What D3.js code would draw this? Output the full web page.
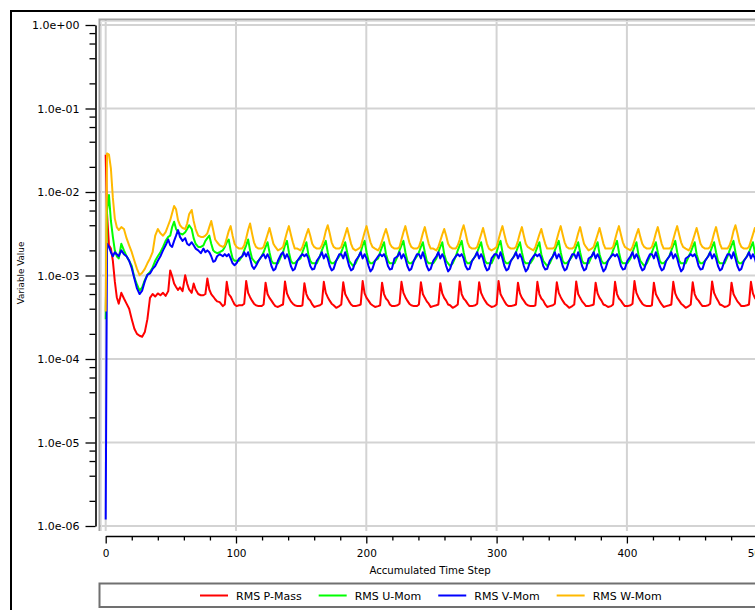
<!DOCTYPE html>
<html><head><meta charset="utf-8">
<script src="https://cdn.jsdelivr.net/npm/d3@7"></script>
<style>html,body{margin:0;padding:0;background:#fff;} svg{display:block;}</style>
</head><body>
<svg id="chart" width="755" height="610"></svg>
<script>
// ---- data ----
const steps = [
  0, 1, 2.5, 4, 5.5, 7, 8.5, 10, 12, 14,
  16, 18, 20, 22, 24, 26, 28, 30, 32, 34,
  36, 38, 40, 42, 44, 46, 48, 49.5, 51, 52.5,
  54, 55.5, 57, 59, 61, 62.5, 64, 66, 67.5, 69,
  71, 73,
  75, 76.5, 78, 79.5, 81, 82.5, 84, 85.5, 87.5,
  89.9, 91.4, 92.9, 94.4, 95.9, 97.4, 98.9, 100.4, 102.4,
  104.8, 106.3, 107.8, 109.3, 110.8, 112.3, 113.8, 115.3, 117.3,
  119.7, 121.2, 122.7, 124.2, 125.7, 127.2, 128.7, 130.2, 132.2,
  134.6, 136.1, 137.6, 139.1, 140.6, 142.1, 143.6, 145.1, 147.1,
  149.5, 151, 152.5, 154, 155.5, 157, 158.5, 160, 162,
  164.4, 165.9, 167.4, 168.9, 170.4, 171.9, 173.4, 174.9, 176.9,
  179.3, 180.8, 182.3, 183.8, 185.3, 186.8, 188.3, 189.8, 191.8,
  194.2, 195.7, 197.2, 198.7, 200.2, 201.7, 203.2, 204.7, 206.7,
  209.1, 210.6, 212.1, 213.6, 215.1, 216.6, 218.1, 219.6, 221.6,
  224, 225.5, 227, 228.5, 230, 231.5, 233, 234.5, 236.5,
  238.9, 240.4, 241.9, 243.4, 244.9, 246.4, 247.9, 249.4, 251.4,
  253.8, 255.3, 256.8, 258.3, 259.8, 261.3, 262.8, 264.3, 266.3,
  268.7, 270.2, 271.7, 273.2, 274.7, 276.2, 277.7, 279.2, 281.2,
  283.6, 285.1, 286.6, 288.1, 289.6, 291.1, 292.6, 294.1, 296.1,
  298.5, 300, 301.5, 303, 304.5, 306, 307.5, 309, 311,
  313.4, 314.9, 316.4, 317.9, 319.4, 320.9, 322.4, 323.9, 325.9,
  328.3, 329.8, 331.3, 332.8, 334.3, 335.8, 337.3, 338.8, 340.8,
  343.2, 344.7, 346.2, 347.7, 349.2, 350.7, 352.2, 353.7, 355.7,
  358.1, 359.6, 361.1, 362.6, 364.1, 365.6, 367.1, 368.6, 370.6,
  373, 374.5, 376, 377.5, 379, 380.5, 382, 383.5, 385.5,
  387.9, 389.4, 390.9, 392.4, 393.9, 395.4, 396.9, 398.4, 400.4,
  402.8, 404.3, 405.8, 407.3, 408.8, 410.3, 411.8, 413.3, 415.3,
  417.7, 419.2, 420.7, 422.2, 423.7, 425.2, 426.7, 428.2, 430.2,
  432.6, 434.1, 435.6, 437.1, 438.6, 440.1, 441.6, 443.1, 445.1,
  447.5, 449, 450.5, 452, 453.5, 455, 456.5, 458, 460,
  462.4, 463.9, 465.4, 466.9, 468.4, 469.9, 471.4, 472.9, 474.9,
  477.3, 478.8, 480.3, 481.8, 483.3, 484.8, 486.3, 487.8, 489.8,
  492.2, 493.7, 495.2, 496.7, 498.2, 499.7, 501.2, 502.7, 504.7
];

const rmsPMass = [
  0.028, 0.0056, 0.0023, 0.0021, 0.0015, 0.00085, 0.00055, 0.00046, 0.00062, 0.00053,
  0.00046, 0.0004, 0.0003, 0.00023, 0.0002, 0.00019, 0.000185, 0.00021, 0.0003, 0.00054,
  0.0006, 0.00056, 0.00061, 0.00058, 0.00062, 0.00057, 0.00065, 0.00115, 0.00098, 0.0008,
  0.00073, 0.00067, 0.00072, 0.00065, 0.00101, 0.0008, 0.00068, 0.00062, 0.0008, 0.00068,
  0.0006, 0.00058,
  0.00058, 0.0006, 0.00092, 0.00068, 0.0006, 0.00056, 0.00052, 0.00049, 0.00048,
  0.00043, 0.00045, 0.00084, 0.0006, 0.00056, 0.0005, 0.00045, 0.00043, 0.00044,
  0.00044, 0.00046, 0.00086, 0.00062, 0.00055, 0.0005, 0.00046, 0.00044, 0.00043,
  0.00043, 0.00045, 0.00082, 0.0006, 0.00054, 0.0005, 0.00046, 0.00043, 0.00042,
  0.00044, 0.00045, 0.00085, 0.00061, 0.00054, 0.00049, 0.00046, 0.00044, 0.00043,
  0.00043, 0.00044, 0.00081, 0.0006, 0.00053, 0.0005, 0.00045, 0.00042, 0.00043,
  0.00044, 0.00046, 0.00084, 0.00062, 0.00055, 0.0005, 0.00046, 0.00044, 0.00041,
  0.00043, 0.00045, 0.00083, 0.0006, 0.00054, 0.00049, 0.00045, 0.00043, 0.00043,
  0.00044, 0.00045, 0.00086, 0.00061, 0.00054, 0.0005, 0.00046, 0.00044, 0.00042,
  0.00043, 0.00044, 0.00082, 0.0006, 0.00053, 0.0005, 0.00045, 0.00043, 0.00043,
  0.00044, 0.00046, 0.00084, 0.00062, 0.00055, 0.0005, 0.00046, 0.00044, 0.00043,
  0.00043, 0.00045, 0.00083, 0.0006, 0.00054, 0.00049, 0.00046, 0.00042, 0.00043,
  0.00044, 0.00045, 0.00081, 0.00061, 0.00054, 0.0005, 0.00045, 0.00044, 0.00041,
  0.00043, 0.00045, 0.00085, 0.0006, 0.00053, 0.0005, 0.00046, 0.00043, 0.00043,
  0.00044, 0.00046, 0.00083, 0.00062, 0.00055, 0.0005, 0.00046, 0.00044, 0.00042,
  0.00043, 0.00045, 0.00086, 0.0006, 0.00054, 0.00049, 0.00045, 0.00043, 0.00043,
  0.00044, 0.00045, 0.00082, 0.00061, 0.00054, 0.0005, 0.00046, 0.00044, 0.00043,
  0.00043, 0.00044, 0.00084, 0.0006, 0.00053, 0.0005, 0.00045, 0.00042, 0.00043,
  0.00044, 0.00046, 0.00083, 0.00062, 0.00055, 0.0005, 0.00046, 0.00044, 0.00041,
  0.00043, 0.00045, 0.00085, 0.0006, 0.00054, 0.00049, 0.00046, 0.00043, 0.00043,
  0.00044, 0.00045, 0.00082, 0.00061, 0.00054, 0.0005, 0.00045, 0.00044, 0.00042,
  0.00043, 0.00045, 0.00084, 0.0006, 0.00053, 0.0005, 0.00046, 0.00043, 0.00043,
  0.00044, 0.00046, 0.00086, 0.00062, 0.00055, 0.0005, 0.00046, 0.00044, 0.00043,
  0.00043, 0.00044, 0.00082, 0.0006, 0.00054, 0.00049, 0.00045, 0.00042, 0.00043,
  0.00044, 0.00045, 0.00084, 0.00061, 0.00054, 0.0005, 0.00046, 0.00044, 0.00041,
  0.00043, 0.00045, 0.00083, 0.0006, 0.00053, 0.0005, 0.00046, 0.00043, 0.00043,
  0.00044, 0.00046, 0.00085, 0.00062, 0.00055, 0.0005, 0.00045, 0.00044, 0.00042,
  0.00043, 0.00045, 0.00082, 0.0006, 0.00054, 0.00049, 0.00046, 0.00043, 0.00043,
  0.00044, 0.00045, 0.00084, 0.00061, 0.00054, 0.0005, 0.00046, 0.00044, 0.00043
];

const rmsUMom = [
  0.0003, 0.006, 0.0092, 0.0045, 0.0029, 0.002, 0.0017, 0.0016, 0.0024, 0.002,
  0.0017, 0.0015, 0.0013, 0.00095, 0.00078, 0.00066, 0.00072, 0.00088, 0.00102, 0.0011,
  0.00125, 0.0015, 0.0017, 0.0019, 0.0022, 0.0026, 0.0029, 0.003, 0.0038, 0.0044,
  0.0036, 0.0033, 0.0032, 0.0031, 0.0033, 0.0036, 0.004, 0.0036, 0.0028, 0.0024,
  0.0022, 0.0022,
  0.0023, 0.0026, 0.0028, 0.003, 0.0024, 0.002, 0.0019, 0.00185, 0.0019,
  0.002, 0.0022, 0.0025, 0.0027, 0.002, 0.0016, 0.0015, 0.0015, 0.0015,
  0.0017, 0.002, 0.0023, 0.0027, 0.002, 0.0016, 0.0015, 0.0014, 0.0015,
  0.0017, 0.0019, 0.0022, 0.0025, 0.0019, 0.0015, 0.0014, 0.0014, 0.0014,
  0.0017, 0.0019, 0.0023, 0.0026, 0.0019, 0.0015, 0.0014, 0.0014, 0.0015,
  0.0016, 0.0019, 0.0022, 0.0025, 0.0018, 0.0015, 0.0014, 0.0014, 0.0014,
  0.0017, 0.002, 0.0023, 0.0026, 0.0019, 0.0015, 0.0014, 0.0014, 0.0015,
  0.0017, 0.0019, 0.0022, 0.0025, 0.0019, 0.0015, 0.0014, 0.0013, 0.0014,
  0.0017, 0.0019, 0.0023, 0.0026, 0.0019, 0.0015, 0.0014, 0.0014, 0.0015,
  0.0016, 0.0019, 0.0022, 0.0025, 0.0018, 0.0015, 0.0014, 0.0014, 0.0014,
  0.0017, 0.002, 0.0023, 0.0026, 0.0019, 0.0015, 0.0014, 0.0014, 0.0015,
  0.0017, 0.0019, 0.0022, 0.0025, 0.0019, 0.0015, 0.0014, 0.0014, 0.0014,
  0.0016, 0.0019, 0.0022, 0.0025, 0.0018, 0.0015, 0.0014, 0.0013, 0.0014,
  0.0017, 0.002, 0.0023, 0.0026, 0.0019, 0.0015, 0.0014, 0.0014, 0.0015,
  0.0017, 0.0019, 0.0022, 0.0025, 0.0019, 0.0015, 0.0014, 0.0014, 0.0014,
  0.0017, 0.0019, 0.0023, 0.0026, 0.0019, 0.0015, 0.0014, 0.0014, 0.0015,
  0.0017, 0.0019, 0.0022, 0.0025, 0.0019, 0.0015, 0.0014, 0.0014, 0.0014,
  0.0016, 0.0019, 0.0022, 0.0025, 0.0018, 0.0015, 0.0014, 0.0013, 0.0014,
  0.0017, 0.002, 0.0023, 0.0026, 0.0019, 0.0015, 0.0014, 0.0014, 0.0015,
  0.0017, 0.0019, 0.0022, 0.0025, 0.0019, 0.0015, 0.0014, 0.0014, 0.0014,
  0.0017, 0.0019, 0.0022, 0.0025, 0.0018, 0.0015, 0.0014, 0.0014, 0.0015,
  0.0017, 0.002, 0.0023, 0.0026, 0.0019, 0.0015, 0.0014, 0.0014, 0.0014,
  0.0016, 0.0019, 0.0022, 0.0025, 0.0018, 0.0015, 0.0014, 0.0013, 0.0014,
  0.0017, 0.0019, 0.0022, 0.0025, 0.0019, 0.0015, 0.0014, 0.0014, 0.0015,
  0.0017, 0.002, 0.0023, 0.0026, 0.0019, 0.0015, 0.0014, 0.0014, 0.0014,
  0.0017, 0.0019, 0.0022, 0.0025, 0.0018, 0.0015, 0.0014, 0.0014, 0.0015,
  0.0017, 0.0019, 0.0022, 0.0025, 0.0019, 0.0015, 0.0014, 0.0014, 0.0014,
  0.0017, 0.002, 0.0023, 0.0026, 0.0019, 0.0015, 0.0014, 0.0014, 0.0015,
  0.0017, 0.0019, 0.0022, 0.0025, 0.0019, 0.0015, 0.0014, 0.0014, 0.0014
];

const rmsVMom = [
  0.0000012, 0.0024, 0.0022, 0.0019, 0.0017, 0.0019, 0.0018, 0.0017, 0.002, 0.0018,
  0.0017, 0.0015, 0.00122, 0.00092, 0.0007, 0.0006, 0.00066, 0.00085, 0.00102, 0.00106,
  0.0012, 0.0013, 0.0015, 0.0017, 0.002, 0.0023, 0.0027, 0.0023, 0.0022, 0.0026,
  0.003, 0.0035, 0.0029, 0.0026, 0.0028, 0.0024, 0.0023, 0.0025, 0.0023, 0.0021,
  0.002, 0.00185,
  0.0021, 0.0019, 0.002, 0.0019, 0.0017, 0.00146, 0.0015, 0.0017, 0.0018,
  0.0017, 0.0018, 0.0017, 0.0018, 0.0016, 0.0014, 0.00133, 0.0014, 0.0016,
  0.0017, 0.0019, 0.0017, 0.0019, 0.0016, 0.0013, 0.0012, 0.0013, 0.0015,
  0.0017, 0.0018, 0.0016, 0.0018, 0.0016, 0.0013, 0.00115, 0.0012, 0.0015,
  0.0018, 0.0019, 0.0016, 0.0018, 0.0016, 0.0013, 0.00115, 0.0012, 0.0015,
  0.0017, 0.0018, 0.0017, 0.0018, 0.0016, 0.0013, 0.00118, 0.0012, 0.0015,
  0.0017, 0.0019, 0.0016, 0.0018, 0.0016, 0.0013, 0.00115, 0.0012, 0.0015,
  0.0018, 0.0018, 0.0016, 0.0019, 0.0016, 0.0013, 0.00115, 0.0012, 0.0015,
  0.0017, 0.0019, 0.0016, 0.0018, 0.0016, 0.0013, 0.00112, 0.0012, 0.0015,
  0.0017, 0.0018, 0.0017, 0.0018, 0.0016, 0.0013, 0.00118, 0.0012, 0.0016,
  0.0017, 0.0019, 0.0016, 0.0018, 0.0016, 0.0013, 0.00115, 0.0012, 0.0015,
  0.0018, 0.0018, 0.0016, 0.0019, 0.0016, 0.0013, 0.00115, 0.0012, 0.0015,
  0.0017, 0.0019, 0.0016, 0.0018, 0.0016, 0.0013, 0.00112, 0.0012, 0.0015,
  0.0017, 0.0018, 0.0017, 0.0018, 0.0016, 0.0013, 0.00118, 0.0012, 0.0015,
  0.0017, 0.0019, 0.0016, 0.0018, 0.0016, 0.0013, 0.00115, 0.0012, 0.0016,
  0.0018, 0.0018, 0.0016, 0.0019, 0.0016, 0.0013, 0.00115, 0.0012, 0.0015,
  0.0017, 0.0019, 0.0016, 0.0018, 0.0016, 0.0013, 0.00112, 0.0012, 0.0015,
  0.0017, 0.0018, 0.0017, 0.0018, 0.0016, 0.0013, 0.00118, 0.0012, 0.0015,
  0.0017, 0.0019, 0.0016, 0.0018, 0.0016, 0.0013, 0.00115, 0.0012, 0.0015,
  0.0018, 0.0018, 0.0016, 0.0019, 0.0016, 0.0013, 0.00115, 0.0012, 0.0016,
  0.0017, 0.0019, 0.0016, 0.0018, 0.0016, 0.0013, 0.00112, 0.0012, 0.0015,
  0.0017, 0.0018, 0.0017, 0.0018, 0.0016, 0.0013, 0.00118, 0.0012, 0.0015,
  0.0017, 0.0019, 0.0016, 0.0018, 0.0016, 0.0013, 0.00115, 0.0012, 0.0015,
  0.0018, 0.0018, 0.0016, 0.0019, 0.0016, 0.0013, 0.00115, 0.0012, 0.0015,
  0.0017, 0.0019, 0.0016, 0.0018, 0.0016, 0.0013, 0.00112, 0.0012, 0.0016,
  0.0017, 0.0018, 0.0017, 0.0018, 0.0016, 0.0013, 0.00118, 0.0012, 0.0015,
  0.0017, 0.0019, 0.0016, 0.0018, 0.0016, 0.0013, 0.00115, 0.0012, 0.0015,
  0.0018, 0.0018, 0.0016, 0.0019, 0.0016, 0.0013, 0.00115, 0.0012, 0.0015,
  0.0017, 0.0019, 0.0016, 0.0018, 0.0016, 0.0013, 0.00112, 0.0012, 0.0015
];

const rmsWMom = [
  0.00037, 0.029, 0.028, 0.019, 0.0085, 0.0048, 0.0038, 0.0035, 0.0038, 0.0036,
  0.0028, 0.0023, 0.0019, 0.0015, 0.0012, 0.00101, 0.00108, 0.0012, 0.0014, 0.0016,
  0.0019, 0.003, 0.0036, 0.0032, 0.003, 0.0033, 0.004, 0.0046, 0.0056, 0.0068,
  0.0062, 0.0046, 0.004, 0.0037, 0.0036, 0.0042, 0.0054, 0.0061, 0.0045, 0.0036,
  0.003, 0.0029,
  0.0029, 0.003, 0.0032, 0.0038, 0.0045, 0.0035, 0.0027, 0.0025, 0.0023,
  0.0022, 0.0023, 0.0028, 0.0034, 0.0039, 0.003, 0.0024, 0.0022, 0.0021,
  0.0021, 0.0023, 0.0028, 0.0035, 0.0042, 0.0032, 0.0025, 0.0022, 0.0021,
  0.0021, 0.0022, 0.0026, 0.0031, 0.0037, 0.003, 0.0024, 0.0022, 0.002,
  0.0021, 0.0022, 0.0027, 0.0033, 0.0039, 0.0031, 0.0025, 0.0021, 0.0021,
  0.002, 0.0022, 0.0026, 0.0031, 0.0036, 0.003, 0.0024, 0.0022, 0.0021,
  0.0021, 0.0023, 0.0027, 0.0034, 0.004, 0.0032, 0.0025, 0.0022, 0.0021,
  0.0021, 0.0022, 0.0026, 0.0031, 0.0037, 0.003, 0.0024, 0.0021, 0.002,
  0.0021, 0.0022, 0.0027, 0.0033, 0.0039, 0.0031, 0.0025, 0.0022, 0.0021,
  0.002, 0.0022, 0.0026, 0.0031, 0.0036, 0.003, 0.0024, 0.0022, 0.0021,
  0.0021, 0.0022, 0.0027, 0.0033, 0.0039, 0.0031, 0.0025, 0.0022, 0.0021,
  0.0021, 0.0022, 0.0026, 0.0032, 0.0038, 0.003, 0.0024, 0.0021, 0.0021,
  0.002, 0.0022, 0.0026, 0.0031, 0.0036, 0.003, 0.0024, 0.0022, 0.0021,
  0.0021, 0.0023, 0.0027, 0.0034, 0.004, 0.0032, 0.0025, 0.0022, 0.0021,
  0.0021, 0.0022, 0.0026, 0.0031, 0.0037, 0.003, 0.0024, 0.0021, 0.002,
  0.0021, 0.0022, 0.0027, 0.0033, 0.0039, 0.0031, 0.0025, 0.0022, 0.0021,
  0.0021, 0.0022, 0.0026, 0.0032, 0.0038, 0.003, 0.0024, 0.0022, 0.0021,
  0.002, 0.0022, 0.0026, 0.0031, 0.0036, 0.0029, 0.0024, 0.0021, 0.0021,
  0.0021, 0.0022, 0.0027, 0.0033, 0.0039, 0.0031, 0.0025, 0.0022, 0.0021,
  0.0021, 0.0022, 0.0026, 0.0032, 0.0038, 0.003, 0.0024, 0.0022, 0.002,
  0.0021, 0.0022, 0.0026, 0.0031, 0.0037, 0.003, 0.0024, 0.0021, 0.0021,
  0.0021, 0.0022, 0.0027, 0.0033, 0.0039, 0.0031, 0.0025, 0.0022, 0.0021,
  0.002, 0.0022, 0.0026, 0.0031, 0.0036, 0.0029, 0.0024, 0.0022, 0.0021,
  0.0021, 0.0022, 0.0026, 0.0032, 0.0038, 0.003, 0.0024, 0.0021, 0.0021,
  0.0021, 0.0022, 0.0027, 0.0033, 0.0039, 0.0031, 0.0025, 0.0022, 0.0021,
  0.002, 0.0022, 0.0026, 0.0031, 0.0037, 0.003, 0.0024, 0.0022, 0.0021,
  0.0021, 0.0022, 0.0026, 0.0032, 0.0038, 0.003, 0.0024, 0.0021, 0.0021,
  0.0021, 0.0023, 0.0027, 0.0034, 0.004, 0.0032, 0.0025, 0.0022, 0.0021,
  0.0021, 0.0022, 0.0026, 0.0031, 0.0037, 0.003, 0.0024, 0.0022, 0.0021
];

const seriesNames = ["RMS P-Mass", "RMS U-Mom", "RMS V-Mom", "RMS W-Mom"];
const seriesColors = ["#ff0000", "#00ff00", "#0000ff", "#ffb900"];
const xTickValues = [0, 100, 200, 300, 400, 500];
const xTickLabels = ["0", "100", "200", "300", "400", "500"];
const yTickValues = [1e-6, 1e-5, 1e-4, 1e-3, 1e-2, 1e-1, 1];
const yTickLabels = ["1.0e-06", "1.0e-05", "1.0e-04", "1.0e-03", "1.0e-02", "1.0e-01", "1.0e+00"];
const xTitle = "Accumulated Time Step";
const yTitle = "Variable Value";

// ---- drawing ----
const W = 755, H = 610;
const FONT = "DejaVu Sans";
const svg = d3.select("#chart");
svg.append("rect").attr("width", W).attr("height", H).attr("fill", "#fff");

// outer black frame (extends past the right/bottom edge)
svg.append("rect").attr("x", 11).attr("y", 11).attr("width", 800).attr("height", 700)
  .attr("fill", "none").attr("stroke", "#000").attr("stroke-width", 2);

const plot = { left: 99.5, top: 19.5, bottom: 531 };
const x = d3.scaleLinear().domain([0, 500]).range([105.7, 757.2]);
const y = d3.scaleLog().domain([1e-6, 1]).range([526, 25]);

// gridlines
const grid = svg.append("g");
grid.selectAll("line.gv").data(xTickValues).join("line").attr("class", "gv")
  .attr("x1", d => x(d)).attr("x2", d => x(d)).attr("y1", plot.top).attr("y2", plot.bottom)
  .attr("stroke", "#d3d3d3").attr("stroke-width", 2);
grid.selectAll("line.gh").data(yTickValues).join("line").attr("class", "gh")
  .attr("x1", plot.left).attr("x2", W + 5).attr("y1", d => y(d)).attr("y2", d => y(d))
  .attr("stroke", "#d3d3d3").attr("stroke-width", 2);

// plot frame
svg.append("path").attr("d", `M${plot.left},${plot.bottom}V${plot.top}H${W + 5}`)
  .attr("fill", "none").attr("stroke", "#a4a4a4").attr("stroke-width", 2);
svg.append("path").attr("d", `M${plot.left + 2},${plot.bottom}V${plot.top + 2}H${W + 5}`)
  .attr("fill", "none").attr("stroke", "#e2e2e2").attr("stroke-width", 1);

// clip for series
svg.append("clipPath").attr("id", "clip").append("rect")
  .attr("x", plot.left + 1).attr("y", plot.top + 1).attr("width", 700).attr("height", plot.bottom - plot.top - 1);

const seriesValues = [rmsPMass, rmsUMom, rmsVMom, rmsWMom];
const line = d3.line()
  .defined(d => d[1] != null && d[1] > 0)
  .x(d => x(d[0])).y(d => y(d[1]));
const gLines = svg.append("g").attr("clip-path", "url(#clip)");
seriesValues.forEach((vals, i) => {
  const pts = steps.map((s, j) => [s, vals[j]]);
  gLines.append("path").datum(pts).attr("d", line)
    .attr("fill", "none").attr("stroke", seriesColors[i]).attr("stroke-width", 2)
    .attr("stroke-linejoin", "round");
});

// Y axis
const yMinor = yTickValues.slice(0, -1).flatMap(v => [2, 4, 6, 8].map(m => m * v));
const gy = svg.append("g").attr("transform", "translate(95.5,0)")
  .call(d3.axisLeft(y).tickValues(yTickValues).tickFormat((d, i) => yTickLabels[i])
    .tickSize(10).tickPadding(6).tickSizeOuter(0));
svg.append("g").attr("transform", "translate(95.5,0)")
  .call(d3.axisLeft(y).tickValues(yMinor).tickFormat("").tickSize(6).tickSizeOuter(0))
  .select(".domain").remove();

// X axis
const xMinor = [20, 40, 60, 80, 120, 140, 160, 180, 220, 240, 260, 280, 320, 340, 360, 380, 420, 440, 460, 480];
const gx = svg.append("g").attr("transform", "translate(0,536)")
  .call(d3.axisBottom(x).tickValues(xTickValues).tickFormat((d, i) => xTickLabels[i])
    .tickSize(7.5).tickPadding(6.5).tickSizeOuter(0));
svg.append("g").attr("transform", "translate(0,536)")
  .call(d3.axisBottom(x).tickValues(xMinor).tickFormat("").tickSize(4.5).tickSizeOuter(0))
  .select(".domain").remove();

svg.selectAll(".domain").attr("stroke", "#000").attr("stroke-width", 1.6);
svg.selectAll(".tick line").attr("stroke", "#000").attr("stroke-width", 1.3);
gy.selectAll(".tick text").attr("font-family", FONT).attr("font-size", 11).attr("fill", "#000");
gx.selectAll(".tick text").attr("font-family", FONT).attr("font-size", 10.5).attr("fill", "#000");

// axis titles
svg.append("text").attr("x", 430).attr("y", 574).attr("text-anchor", "middle")
  .attr("font-family", FONT).attr("font-size", 10.2).attr("fill", "#000").text(xTitle);
svg.append("text").attr("transform", "translate(21,273) rotate(-90)")
  .attr("text-anchor", "middle").attr("dominant-baseline", "central")
  .attr("font-family", FONT).attr("font-size", 8.8).attr("fill", "#000").text(yTitle);

// legend
svg.append("rect").attr("x", 99.5).attr("y", 583.5).attr("width", 700).attr("height", 23.5)
  .attr("fill", "#fff").attr("stroke", "#707070").attr("stroke-width", 2);
let lx = 200;
seriesNames.forEach((name, i) => {
  const g = svg.append("g");
  g.append("line").attr("x1", lx).attr("x2", lx + 28).attr("y1", 595.5).attr("y2", 595.5)
    .attr("stroke", seriesColors[i]).attr("stroke-width", 2);
  const t = g.append("text").attr("x", lx + 36).attr("y", 599.5)
    .attr("font-family", FONT).attr("font-size", 11).attr("fill", "#000").text(name);
  lx = lx + 36 + t.node().getComputedTextLength() + 17;
});
</script>
</body></html>
